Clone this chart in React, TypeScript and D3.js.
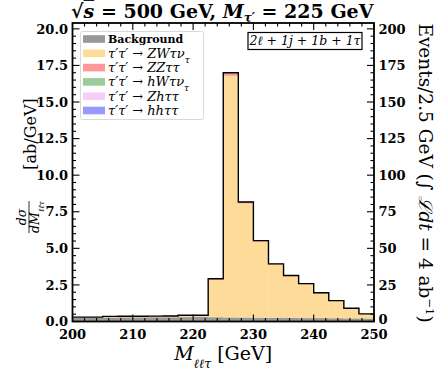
import React from 'react';
import * as d3 from 'd3';

const width = 436;
const height = 370;
const margin = { top: 23, right: 62, bottom: 48.5, left: 72.5 };

// 2.5 GeV bins from 200 to 250 GeV
const binEdges = d3.range(0, 21).map(i => 200 + 2.5 * i);

// dσ/dM [ab/GeV], stacked bottom → top
const background = [0.26, 0.26, 0.28, 0.29, 0.29, 0.30, 0.30, 0.31, 0.32, 0.30, 0.28, 0.27, 0.26, 0.26, 0.25, 0.24, 0.24, 0.23, 0.22, 0.21];
const zwTauNu = [0.04, 0.04, 0.07, 0.07, 0.07, 0.06, 0.07, 0.10, 0.09, 2.58, 16.52, 7.82, 5.20, 3.64, 2.86, 2.32, 1.70, 1.18, 0.67, 0.31];
const zzTauTau = [0, 0, 0, 0, 0, 0.01, 0.01, 0.02, 0.02, 0.03, 0.18, 0.06, 0.05, 0.03, 0.02, 0.02, 0.01, 0.01, 0.01, 0];
const hwTauNu = [0, 0, 0, 0, 0, 0, 0, 0, 0, 0.01, 0.01, 0.01, 0.01, 0.01, 0.01, 0.01, 0.01, 0.01, 0.01, 0];
const zhTauTau = [0, 0, 0, 0, 0, 0, 0, 0, 0, 0.005, 0.005, 0.005, 0.005, 0, 0, 0, 0, 0, 0, 0];
const hhTauTau = [0, 0, 0, 0, 0, 0, 0, 0, 0, 0, 0.005, 0.005, 0, 0, 0, 0, 0, 0, 0, 0];

const yTicks = [0, 2.5, 5, 7.5, 10, 12.5, 15, 17.5, 20];
const yRightTicks = [0, 25, 50, 75, 100, 125, 150, 175, 200];
const xTicks = [200, 210, 220, 230, 240, 250];
const lumiFactor = 2.5 * 4; // events per bin for 4 ab^-1

const layers = [
  { key: 'bg', values: background, color: '#999999' },
  { key: 'zw', values: zwTauNu, color: '#ffdb99' },
  { key: 'zz', values: zzTauTau, color: '#ff9999' },
  { key: 'hw', values: hwTauNu, color: '#99cc99' },
  { key: 'zh', values: zhTauTau, color: '#f8cdf8' },
  { key: 'hh', values: hhTauTau, color: '#9999ff' },
];

const serif = '"DejaVu Serif", serif';

const Sub = ({ children, size = 9 }: { children: React.ReactNode; size?: number }) => (
  <tspan baselineShift="sub" fontSize={size}>{children}</tspan>
);

const Proc = ({ final, sub }: { final: string; sub?: string }) => (
  <>
    <tspan fontStyle="italic">τ′τ′</tspan>
    <tspan dx={4}>→</tspan>
    <tspan dx={4} fontStyle="italic">{final}</tspan>
    {sub ? <Sub size={9}><tspan fontStyle="italic">{sub}</tspan></Sub> : null}
  </>
);

const legendRows: { color: string; label: React.ReactNode; size: number }[] = [
  { color: '#999999', label: <tspan fontWeight="bold">Background</tspan>, size: 11 },
  { color: '#ffdb99', label: <Proc final="ZWτν" sub="τ" />, size: 13 },
  { color: '#ff9999', label: <Proc final="ZZττ" />, size: 13 },
  { color: '#99cc99', label: <Proc final="hWτν" sub="τ" />, size: 13 },
  { color: '#f8cdf8', label: <Proc final="Zhττ" />, size: 13 },
  { color: '#9999ff', label: <Proc final="hhττ" />, size: 13 },
];

export default function App() {
  const innerW = width - margin.left - margin.right;
  const innerH = height - margin.top - margin.bottom;
  const x0 = margin.left;
  const x1 = margin.left + innerW;
  const y0 = margin.top + innerH;
  const y1 = margin.top;

  const x = d3.scaleLinear().domain([200, 250]).range([x0, x1]);
  const y = d3.scaleLinear().domain([0, 20.4]).range([y0, y1]);
  const yR = d3.scaleLinear().domain([0, 20.4 * lumiFactor]).range([y0, y1]);

  // cumulative stacks
  const nBins = binEdges.length - 1;
  const stacked = layers.map(() => [] as [number, number][]);
  for (let i = 0; i < nBins; i++) {
    let acc = 0;
    layers.forEach((l, j) => {
      stacked[j].push([acc, acc + l.values[i]]);
      acc += l.values[i];
    });
  }
  const totals = d3.range(nBins).map(i => d3.sum(layers, l => l.values[i]));
  const stepPts: [number, number][] = totals.map((t, i) => [binEdges[i], t]);
  stepPts.push([binEdges[nBins], totals[nBins - 1]]);
  const stepLine = d3.line<[number, number]>()
    .x(d => x(d[0]))
    .y(d => y(d[1]))
    .curve(d3.curveStepAfter);

  const xMinor = d3.range(200, 250.01, 2).filter(v => v % 10 !== 0);
  const yMinor = d3.range(0, 20.41, 0.5).filter(v => Math.abs(v / 2.5 - Math.round(v / 2.5)) > 1e-6);
  const yRMinor = d3.range(0, 204.1, 5).filter(v => v % 25 !== 0);

  const major = 7;
  const minor = 3.5;
  const tickStroke = { stroke: 'black', strokeWidth: 1.1 };

  return (
    <svg width={width} height={height} style={{ position: 'absolute', left: 0, top: 0, background: 'white' }} fontFamily={serif}>
      <rect width={width} height={height} fill="white" />
      {/* title */}
      <text x={(x0 + x1) / 2 - 1} y={18} textAnchor="middle" fontSize={19} fontWeight="bold">
        √<tspan fontStyle="italic" textDecoration="overline">s</tspan> = 500 GeV, <tspan fontStyle="italic">M</tspan>
        <tspan dy={4} fontSize={12} fontStyle="italic">τ′</tspan><tspan dy={-4}> = 225 GeV</tspan>
      </text>

      {/* stacked histogram */}
      {layers.map((l, j) => (
        <g key={l.key}>
          {stacked[j].map(([a, b], i) => b - a > 0 ? (
            <rect
              key={i}
              x={x(binEdges[i])}
              width={x(binEdges[i + 1]) - x(binEdges[i])}
              y={y(b)}
              height={y(a) - y(b)}
              fill={l.color}
              stroke={l.color}
              strokeWidth={0.4}
            />
          ) : null)}
        </g>
      ))}
      <path d={stepLine(stepPts) || ''} fill="none" stroke="black" strokeWidth={1.4} />

      {/* ticks: bottom / top */}
      {xTicks.map(t => (
        <g key={t}>
          <line x1={x(t)} x2={x(t)} y1={y0} y2={y0 - major} {...tickStroke} />
          <line x1={x(t)} x2={x(t)} y1={y1} y2={y1 + major} {...tickStroke} />
          <text x={x(t)} y={338.5} textAnchor="middle" fontSize={13} fontWeight="bold">{t}</text>
        </g>
      ))}
      {xMinor.map(t => (
        <g key={t}>
          <line x1={x(t)} x2={x(t)} y1={y0} y2={y0 - minor} {...tickStroke} />
          <line x1={x(t)} x2={x(t)} y1={y1} y2={y1 + minor} {...tickStroke} />
        </g>
      ))}
      {/* left axis */}
      {yTicks.map(t => (
        <g key={t}>
          <line x1={x0} x2={x0 + major} y1={y(t)} y2={y(t)} {...tickStroke} />
          <text x={68} y={y(t)} dy="0.36em" textAnchor="end" fontSize={13} fontWeight="bold">{t.toFixed(1)}</text>
        </g>
      ))}
      {yMinor.map(t => (
        <line key={t} x1={x0} x2={x0 + minor} y1={y(t)} y2={y(t)} {...tickStroke} />
      ))}
      {/* right axis */}
      {yRightTicks.map(t => (
        <g key={t}>
          <line x1={x1} x2={x1 - major} y1={yR(t)} y2={yR(t)} {...tickStroke} />
          <text x={378.5} y={yR(t)} dy={t === 0 ? '0.2em' : '0.36em'} textAnchor="start" fontSize={13} fontWeight="bold">{t}</text>
        </g>
      ))}
      {yRMinor.map(t => (
        <line key={t} x1={x1} x2={x1 - minor} y1={yR(t)} y2={yR(t)} {...tickStroke} />
      ))}

      {/* frame */}
      <rect x={x0} y={y1} width={innerW} height={innerH} fill="none" stroke="black" strokeWidth={1.8} />

      {/* legend */}
      <g>
        <rect x={80.5} y={31.5} width={123} height={88} rx={2} fill="white" fillOpacity={0.85} stroke="#d9d9d9" strokeWidth={1} />
        {legendRows.map((r, i) => (
          <g key={i} transform={`translate(0, ${39 + i * 14.3})`}>
            <rect x={83} y={-3.8} width={22} height={7.6} fill={r.color} />
            <text x={108} y={0} dy="0.35em" fontSize={r.size}>{r.label}</text>
          </g>
        ))}
      </g>

      {/* channel box */}
      <rect x={248} y={32.5} width={114} height={17} fill="white" stroke="black" strokeWidth={1.2} />
      <text x={305} y={41} dy="0.35em" textAnchor="middle" fontSize={12.5} fontStyle="italic">
        2ℓ + 1j + 1b + 1τ
      </text>

      {/* x label */}
      <text x={(x0 + x1) / 2} y={360} textAnchor="middle" fontSize={19}>
        <tspan fontStyle="italic">M</tspan><Sub size={12.5}><tspan fontStyle="italic">ℓℓτ</tspan></Sub> [GeV]
      </text>

      {/* left y label */}
      <g transform="translate(30, 168) rotate(-90)" fontSize={16}>
        <text x={-49} y={-4} textAnchor="middle" fontSize={12.5} fontStyle="italic">dσ</text>
        <line x1={-65} x2={-33} y1={-1} y2={-1} stroke="black" strokeWidth={0.8} />
        <text x={-49} y={9} textAnchor="middle" fontSize={12.5} fontStyle="italic">dM<tspan baselineShift="sub" fontSize={8}>ℓℓτ</tspan></text>
        <text x={34} y={6} textAnchor="middle">[ab/GeV]</text>
      </g>

      {/* right y label */}
      <g transform="translate(419, 173) rotate(90)">
        <text x={0} y={0} textAnchor="middle" fontSize={18.5}>
          Events/2.5 GeV (∫ <tspan fontStyle="italic">ℒdt</tspan> = 4 ab<tspan baselineShift="super" fontSize={11.5}>−1</tspan>)
        </text>
      </g>
    </svg>
  );
}
